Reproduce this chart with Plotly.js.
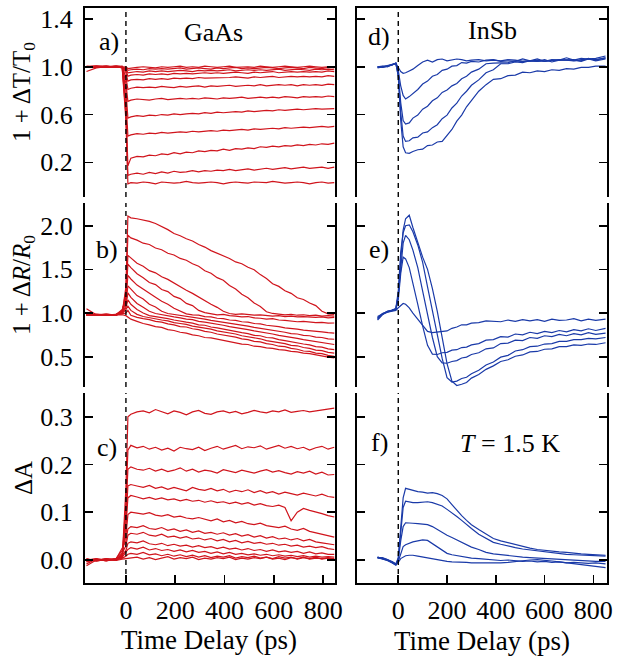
<!DOCTYPE html>
<html>
<head>
<meta charset="utf-8">
<script src="https://cdn.plot.ly/plotly-3.0.1.min.js"></script>
<style>
  html, body { margin: 0; padding: 0; background: #ffffff; }
  #chart { width: 618px; height: 656px; }
</style>
</head>
<body>
<div id="chart"></div>
<script>
// Time axes (ps)
const tGaAs = [-160,-120,-80,-40,-15,0,8,20,45,70,95,120,145,170,195,220,245,270,295,320,345,370,395,420,445,470,495,520,545,570,595,620,645,670,695,720,745,770,795,820,845];
const tInSb = [-85,-65,-45,-25,-10,0,10,20,30,45,60,80,100,120,140,160,180,200,220,240,260,280,300,330,360,390,420,450,480,510,540,570,600,630,660,690,720,750,780,810,850];

// a) GaAs: 1 + dT/T0, one curve per pump fluence
const gaasTransmission = [
  [1.0,1.005,0.995,1.0,0.99, 0.55,0.02, 0.03,0.025,0.035,0.03,0.02,0.035,0.03,0.025,0.03,0.04, 0.03,0.025,0.03,0.035,0.03,0.02,0.03,0.035,0.03,0.025, 0.035,0.03,0.03,0.04,0.03,0.025,0.03,0.035,0.03,0.02, 0.03,0.035,0.025,0.03],
  [0.96,0.99,1.0,1.005,0.995, 0.6,0.09, 0.10,0.11,0.10,0.115,0.105,0.12,0.11,0.125,0.115,0.12, 0.13,0.12,0.13,0.125,0.135,0.13,0.14,0.13,0.135,0.145, 0.135,0.14,0.15,0.14,0.145,0.155,0.145,0.15,0.16,0.15, 0.155,0.16,0.15,0.16],
  [1.0,0.995,1.005,1.0,0.995, 0.65,0.17, 0.235,0.25,0.245,0.26,0.255,0.27,0.265,0.28,0.27,0.285, 0.28,0.295,0.29,0.30,0.295,0.31,0.30,0.315,0.31,0.32, 0.315,0.33,0.325,0.335,0.33,0.34,0.335,0.345,0.34,0.35, 0.345,0.355,0.35,0.36],
  [1.0,1.0,0.995,1.005,1.0, 0.72,0.42, 0.43,0.44,0.435,0.445,0.44,0.45,0.445,0.45,0.455,0.45, 0.46,0.455,0.46,0.465,0.46,0.47,0.465,0.47,0.475,0.47, 0.48,0.475,0.48,0.485,0.48,0.49,0.485,0.49,0.495,0.49, 0.495,0.50,0.495,0.50],
  [1.0,1.005,1.0,0.995,1.0, 0.8,0.57, 0.58,0.59,0.585,0.595,0.59,0.60,0.595,0.605,0.60,0.605, 0.61,0.605,0.615,0.61,0.62,0.615,0.62,0.625,0.62,0.63, 0.625,0.63,0.635,0.63,0.64,0.635,0.64,0.645,0.64,0.645, 0.65,0.645,0.65,0.65],
  [1.0,0.995,1.0,1.005,1.0, 0.86,0.71, 0.72,0.73,0.725,0.72,0.73,0.735,0.725,0.73,0.735,0.73, 0.735,0.73,0.74,0.735,0.73,0.74,0.735,0.74,0.745,0.735, 0.74,0.745,0.74,0.745,0.74,0.75,0.745,0.74,0.75,0.745, 0.75,0.745,0.755,0.75],
  [1.0,1.0,1.005,0.995,1.0, 0.91,0.81, 0.82,0.83,0.825,0.83,0.825,0.835,0.83,0.825,0.835,0.83, 0.835,0.84,0.83,0.84,0.835,0.84,0.845,0.835,0.84,0.845, 0.84,0.85,0.84,0.845,0.85,0.845,0.85,0.84,0.85,0.845, 0.85,0.845,0.855,0.85],
  [1.0,0.995,1.0,1.0,1.005, 0.95,0.88, 0.89,0.895,0.89,0.90,0.895,0.90,0.895,0.905,0.90,0.905, 0.90,0.91,0.905,0.905,0.91,0.905,0.91,0.915,0.91,0.905, 0.915,0.91,0.915,0.92,0.91,0.915,0.92,0.915,0.92,0.915, 0.92,0.915,0.925,0.92],
  [1.0,1.0,0.995,1.0,1.0, 0.97,0.92, 0.93,0.935,0.93,0.94,0.935,0.94,0.935,0.945,0.94,0.945, 0.94,0.945,0.95,0.945,0.95,0.945,0.95,0.955,0.95,0.945, 0.955,0.95,0.955,0.96,0.95,0.955,0.96,0.955,0.96,0.955, 0.96,0.955,0.965,0.96],
  [1.005,1.0,1.0,0.995,1.0, 0.98,0.95, 0.955,0.96,0.955,0.965,0.96,0.965,0.96,0.965,0.97,0.965, 0.96,0.97,0.965,0.97,0.965,0.97,0.975,0.965,0.97,0.975, 0.97,0.975,0.97,0.975,0.98,0.97,0.975,0.98,0.975,0.97, 0.98,0.975,0.98,0.975],
  [1.0,1.005,1.0,1.0,0.995, 0.99,0.97, 0.975,0.98,0.975,0.985,0.98,0.985,0.98,0.985,0.99,0.98, 0.985,0.99,0.985,0.98,0.99,0.985,0.99,0.995,0.985,0.99, 0.985,0.99,0.995,0.99,0.985,0.99,0.995,0.99,0.985,0.995, 0.99,0.985,0.995,0.99],
  [1.0,1.0,1.005,0.995,1.0, 1.0,0.985, 0.99,0.995,1.0,0.995,0.99,1.0,0.995,1.0,1.005,0.995, 1.0,0.995,1.005,1.0,0.995,1.0,1.005,0.995,1.0,1.0, 0.995,1.005,1.0,0.995,1.0,1.005,1.0,0.995,1.0,1.005, 1.0,0.995,1.0,1.0]
];

// b) GaAs: 1 + dR/R0
const gaasReflection = [
  [1.05,0.98,0.985,0.975,1.0, 1.3,2.11, 2.09,2.08,2.065,2.05,2.025,1.99,1.955,1.91,1.885,1.85, 1.825,1.785,1.755,1.715,1.685,1.65,1.625,1.585,1.565,1.525, 1.495,1.44,1.395,1.335,1.305,1.255,1.225,1.175,1.155,1.115, 1.085,1.02,0.99,0.985],
  [0.98,0.975,0.985,0.98,1.01, 1.25,1.89, 1.86,1.835,1.80,1.785,1.745,1.725,1.685,1.665,1.625,1.605, 1.565,1.535,1.485,1.455,1.405,1.375,1.315,1.275,1.215,1.175, 1.115,1.075,1.015,0.995,0.99,0.98,0.985,0.975,0.98,0.97, 0.975,0.965,0.97,0.965],
  [0.975,0.985,0.98,0.975,1.02, 1.2,1.66, 1.63,1.57,1.535,1.485,1.46,1.415,1.385,1.34,1.305,1.26, 1.225,1.18,1.145,1.10,1.065,1.02,0.995,0.985,0.99,0.98, 0.975,0.98,0.97,0.965,0.97,0.96,0.965,0.955,0.96,0.955, 0.95,0.955,0.945,0.95],
  [0.985,0.98,0.975,0.985,1.03, 1.18,1.56, 1.52,1.45,1.405,1.35,1.325,1.27,1.245,1.19,1.165,1.11, 1.085,1.03,1.005,0.99,0.98,0.985,0.97,0.965,0.955,0.96, 0.945,0.94,0.93,0.935,0.92,0.915,0.91,0.90,0.905,0.895, 0.89,0.893,0.885,0.886],
  [0.98,0.975,0.985,0.98,1.04, 1.15,1.43, 1.39,1.32,1.27,1.22,1.18,1.135,1.10,1.055,1.02,0.99, 0.98,0.975,0.96,0.955,0.94,0.935,0.92,0.915,0.90,0.895, 0.88,0.875,0.86,0.855,0.845,0.83,0.825,0.815,0.805,0.80, 0.79,0.785,0.775,0.77],
  [0.975,0.985,0.98,0.975,1.02, 1.12,1.31, 1.27,1.20,1.16,1.10,1.07,1.02,0.995,0.985,0.97,0.965, 0.95,0.94,0.93,0.915,0.905,0.895,0.88,0.875,0.86,0.85, 0.835,0.825,0.815,0.80,0.79,0.78,0.765,0.76,0.745,0.74, 0.725,0.72,0.705,0.70],
  [0.98,0.98,0.985,0.975,1.01, 1.08,1.23, 1.18,1.11,1.065,1.02,0.995,0.98,0.97,0.955,0.945,0.93, 0.925,0.905,0.895,0.885,0.87,0.86,0.845,0.835,0.82,0.81, 0.795,0.785,0.77,0.76,0.745,0.735,0.72,0.71,0.695,0.685, 0.67,0.665,0.65,0.64],
  [0.985,0.975,0.98,0.985,1.0, 1.06,1.15, 1.10,1.04,1.0,0.97,0.96,0.945,0.935,0.92,0.905,0.895, 0.885,0.865,0.86,0.84,0.83,0.815,0.80,0.79,0.775,0.765, 0.745,0.74,0.72,0.715,0.695,0.685,0.67,0.66,0.645,0.635, 0.615,0.61,0.59,0.58],
  [0.975,0.98,0.985,0.98,0.995, 1.04,1.08, 1.03,0.985,0.96,0.945,0.935,0.92,0.91,0.89,0.88,0.87, 0.85,0.84,0.825,0.815,0.795,0.785,0.77,0.76,0.74,0.73, 0.715,0.705,0.685,0.675,0.66,0.65,0.63,0.625,0.605,0.595, 0.575,0.57,0.55,0.54],
  [0.98,0.985,0.975,0.98,0.99, 1.0,1.03, 0.975,0.95,0.935,0.925,0.905,0.895,0.875,0.865,0.845,0.84, 0.82,0.81,0.79,0.78,0.76,0.75,0.735,0.725,0.705,0.695, 0.675,0.67,0.65,0.64,0.62,0.615,0.595,0.585,0.565,0.56, 0.54,0.535,0.515,0.505],
  [0.98,0.975,0.98,0.985,0.98, 0.97,0.95, 0.93,0.905,0.88,0.865,0.845,0.835,0.81,0.80,0.78,0.77, 0.75,0.74,0.72,0.715,0.70,0.69,0.67,0.66,0.645,0.64, 0.62,0.615,0.60,0.595,0.58,0.575,0.56,0.555,0.54,0.535, 0.52,0.51,0.495,0.485]
];

// c) GaAs: induced absorption
const gaasAbsorption = [
  [-0.008,0.002,-0.002,0.001,0.004, 0.15,0.30, 0.305,0.31,0.312,0.308,0.315,0.31,0.306,0.312,0.309,0.304, 0.31,0.313,0.307,0.305,0.31,0.312,0.308,0.311,0.306,0.309, 0.313,0.31,0.308,0.312,0.31,0.314,0.309,0.311,0.313,0.31, 0.312,0.314,0.316,0.318],
  [0.002,-0.002,0.001,0.003,0.008, 0.12,0.23, 0.24,0.235,0.238,0.232,0.236,0.23,0.234,0.228,0.236,0.233, 0.231,0.236,0.229,0.234,0.238,0.232,0.236,0.24,0.233,0.237, 0.235,0.239,0.232,0.236,0.24,0.234,0.238,0.233,0.236,0.23, 0.235,0.238,0.232,0.236],
  [0.0,0.003,-0.001,0.002,0.01, 0.1,0.19, 0.195,0.19,0.188,0.192,0.186,0.19,0.185,0.188,0.193,0.186, 0.19,0.184,0.188,0.186,0.182,0.189,0.186,0.183,0.188,0.185, 0.182,0.186,0.189,0.184,0.187,0.183,0.18,0.185,0.182,0.186, 0.18,0.184,0.178,0.179],
  [-0.003,0.001,0.002,-0.001,0.006, 0.08,0.155, 0.158,0.155,0.152,0.156,0.15,0.153,0.148,0.152,0.149,0.145, 0.152,0.148,0.146,0.15,0.145,0.148,0.142,0.146,0.143,0.147, 0.141,0.145,0.14,0.143,0.138,0.142,0.139,0.136,0.14,0.137, 0.134,0.138,0.133,0.131],
  [0.002,-0.001,0.003,0.0,0.012, 0.07,0.13, 0.135,0.132,0.128,0.131,0.127,0.13,0.126,0.128,0.124,0.127, 0.123,0.125,0.121,0.124,0.12,0.122,0.118,0.121,0.117,0.12, 0.115,0.118,0.114,0.112,0.115,0.11,0.082,0.1,0.108,0.104, 0.101,0.097,0.093,0.09],
  [0.0,0.002,-0.002,0.003,0.02, 0.05,0.095, 0.10,0.098,0.096,0.099,0.094,0.092,0.095,0.09,0.092,0.088, 0.086,0.089,0.085,0.082,0.086,0.08,0.083,0.078,0.081,0.076, 0.074,0.077,0.072,0.07,0.068,0.071,0.065,0.062,0.066,0.06, 0.057,0.054,0.05,0.048],
  [0.003,-0.002,0.001,0.002,0.025, 0.04,0.065, 0.07,0.068,0.072,0.066,0.064,0.068,0.062,0.065,0.06,0.063, 0.058,0.061,0.056,0.058,0.054,0.057,0.052,0.055,0.05,0.053, 0.048,0.051,0.046,0.049,0.044,0.046,0.042,0.045,0.04,0.043, 0.038,0.036,0.034,0.032],
  [-0.002,0.002,0.0,0.001,0.015, 0.03,0.052, 0.056,0.054,0.058,0.052,0.05,0.054,0.048,0.05,0.046,0.049, 0.044,0.046,0.042,0.045,0.04,0.043,0.038,0.041,0.036,0.039, 0.035,0.037,0.033,0.035,0.031,0.033,0.029,0.031,0.027,0.029, 0.026,0.028,0.024,0.022],
  [0.001,-0.001,0.002,0.0,0.01, 0.02,0.035, 0.038,0.036,0.04,0.034,0.032,0.035,0.03,0.033,0.029,0.031, 0.027,0.03,0.026,0.028,0.024,0.027,0.023,0.025,0.021,0.024, 0.02,0.022,0.018,0.021,0.017,0.019,0.016,0.018,0.014,0.017, 0.013,0.015,0.012,0.012],
  [-0.004,0.001,0.0,0.002,0.006, 0.015,0.022, 0.026,0.023,0.027,0.021,0.024,0.02,0.022,0.018,0.021,0.017, 0.02,0.016,0.018,0.014,0.017,0.013,0.016,0.012,0.014,0.011, 0.013,0.01,0.012,0.009,0.011,0.008,0.01,0.007,0.009,0.006, 0.008,0.006,0.007,0.006],
  [0.0,-0.002,0.002,0.001,0.004, 0.008,0.012, 0.014,0.012,0.016,0.011,0.013,0.009,0.012,0.008,0.011,0.007, 0.01,0.006,0.009,0.005,0.008,0.006,0.009,0.004,0.007,0.005, 0.008,0.004,0.006,0.003,0.007,0.004,0.006,0.002,0.005,0.003, 0.006,0.002,0.004,0.003],
  [-0.012,0.0,0.002,-0.001,0.002, 0.003,0.004, 0.004,0.006,0.002,0.005,0.001,0.004,0.007,0.002,0.005,0.003, 0.006,0.001,0.004,0.002,0.005,0.003,0.006,0.001,0.004,0.002, 0.005,0.003,0.006,0.002,0.004,0.001,0.005,0.003,0.006,0.002, 0.004,0.003,0.005,0.002]
];

// d) InSb: 1 + dT/T0
const insbTransmission = [
  [0.99,1.0,1.01,1.015,1.03, 1.0,0.96,0.945,0.95,0.965, 0.98,1.01,1.04,1.055,1.04, 1.06,1.065,1.05,1.06,1.065, 1.06,1.05,1.055,1.06,1.05, 1.055,1.05,1.06,1.055,1.045, 1.05,1.055,1.045,1.05,1.06, 1.055,1.05,1.06,1.065,1.07, 1.09],
  [1.0,0.995,1.005,1.02,1.03, 0.97,0.84,0.76,0.73,0.75, 0.775,0.81,0.855,0.88,0.92, 0.935,0.97,0.98,1.005,1.01, 1.035,1.03,1.045,1.04,1.055, 1.06,1.045,1.05,1.045,1.065, 1.05,1.065,1.045,1.06,1.055, 1.075,1.055,1.07,1.065,1.06, 1.075],
  [1.0,1.005,1.0,1.02,1.03, 0.95,0.70,0.55,0.52,0.53, 0.57,0.595,0.645,0.67,0.715, 0.74,0.785,0.805,0.84,0.86, 0.9,0.92,0.955,0.98,1.025, 1.03,1.035,1.035,1.05,1.045, 1.05,1.045,1.06,1.04,1.055, 1.055,1.06,1.045,1.065,1.05, 1.065],
  [0.995,1.0,1.01,1.02,1.025, 0.93,0.62,0.42,0.375,0.38, 0.405,0.41,0.445,0.455,0.49, 0.515,0.565,0.595,0.655,0.695, 0.755,0.795,0.845,0.89,0.95, 0.975,1.025,1.025,1.04,1.035, 1.05,1.045,1.05,1.05,1.055, 1.055,1.055,1.05,1.07,1.055, 1.075],
  [1.0,0.995,1.005,1.015,1.03, 0.92,0.55,0.33,0.28,0.275, 0.29,0.305,0.31,0.34,0.345, 0.37,0.375,0.425,0.475,0.545, 0.595,0.665,0.715,0.795,0.85, 0.895,0.9,0.925,0.93,0.955, 0.95,0.965,0.96,0.975,0.97, 0.985,0.98,0.995,0.995,1.005, 1.005]
];

// e) InSb: 1 + dR/R0
const insbReflection = [
  [0.93,0.99,1.01,1.02,1.03, 1.06,1.09,1.11,1.10,1.06, 1.0,0.93,0.85,0.79,0.775, 0.78,0.79,0.795,0.825,0.84, 0.865,0.865,0.885,0.89,0.91, 0.905,0.9,0.92,0.905,0.925, 0.91,0.925,0.905,0.93,0.915, 0.92,0.935,0.91,0.93,0.915, 0.93],
  [0.95,0.985,1.01,1.025,1.04, 1.15,1.45,1.64,1.62,1.52, 1.35,1.10,0.85,0.63,0.53, 0.525,0.545,0.55,0.575,0.58, 0.605,0.61,0.635,0.65,0.69, 0.695,0.73,0.725,0.76,0.75, 0.78,0.765,0.79,0.775,0.80, 0.785,0.81,0.795,0.82,0.80, 0.825],
  [0.96,0.99,1.02,1.03,1.045, 1.2,1.55,1.80,1.89,1.84, 1.72,1.52,1.25,0.98,0.72, 0.50,0.43,0.425,0.445,0.455, 0.485,0.495,0.525,0.545,0.59, 0.60,0.65,0.655,0.69,0.685, 0.72,0.71,0.74,0.73,0.755, 0.74,0.765,0.75,0.775,0.755, 0.77],
  [0.94,0.995,1.015,1.035,1.05, 1.25,1.70,1.92,2.0,2.01, 1.93,1.78,1.58,1.30,1.02, 0.75,0.48,0.26,0.21,0.22, 0.25,0.265,0.305,0.345,0.405, 0.44,0.495,0.515,0.565,0.58, 0.615,0.62,0.645,0.65,0.675, 0.675,0.695,0.695,0.71,0.705, 0.72],
  [0.92,0.98,1.02,1.03,1.05, 1.2,1.60,1.95,2.08,2.12, 1.98,1.80,1.64,1.50,1.28, 1.02,0.72,0.42,0.22,0.17, 0.185,0.205,0.255,0.295,0.355, 0.395,0.445,0.465,0.505,0.52, 0.555,0.56,0.585,0.59,0.615, 0.615,0.635,0.63,0.645,0.64, 0.66]
];

// f) InSb: induced absorption
const insbAbsorption = [
  [0.005,0.004,0.001,-0.004,-0.009, 0.005,0.07,0.13,0.15,0.148, 0.145,0.143,0.142,0.14,0.141, 0.139,0.135,0.128,0.116,0.104, 0.093,0.083,0.074,0.064,0.054, 0.045,0.04,0.036,0.032,0.028, 0.025,0.022,0.02,0.019,0.017, 0.016,0.014,0.013,0.012,0.011, 0.01],
  [0.006,0.003,0.0,-0.005,-0.01, 0.003,0.06,0.11,0.123,0.121, 0.12,0.12,0.121,0.122,0.12, 0.117,0.113,0.106,0.099,0.091, 0.083,0.074,0.066,0.054,0.045, 0.037,0.033,0.029,0.026,0.023, 0.021,0.019,0.017,0.015,0.013, 0.012,0.011,0.01,0.009,0.009, 0.008],
  [0.004,0.005,0.001,-0.003,-0.008, 0.0,0.04,0.07,0.078,0.078, 0.077,0.076,0.075,0.074,0.07, 0.064,0.057,0.052,0.047,0.042, 0.037,0.031,0.027,0.022,0.016, 0.013,0.011,0.009,0.007,0.006, 0.005,0.004,0.003,0.002,0.001, 0.0,-0.001,-0.001,-0.002,-0.003, -0.003],
  [0.005,0.002,-0.001,-0.006,-0.011, -0.003,0.015,0.028,0.032,0.035, 0.038,0.04,0.042,0.041,0.034, 0.027,0.02,0.014,0.011,0.009, 0.007,0.006,0.004,0.003,0.002, 0.0,-0.001,0.0,-0.002,-0.003, -0.002,-0.004,-0.003,-0.005,-0.004, -0.006,-0.005,-0.006,-0.007,-0.006, -0.008],
  [0.006,0.003,0.0,-0.004,-0.009, -0.005,0.003,0.007,0.009,0.01, 0.01,0.008,0.006,0.004,0.002, 0.0,-0.002,-0.003,-0.004,-0.004, -0.005,-0.005,-0.006,-0.006,-0.007, -0.007,-0.006,-0.005,-0.003,-0.001, 0.0,0.001,0.0,-0.002,-0.004, -0.006,-0.008,-0.01,-0.012,-0.014, -0.016]
];

const timeTicks = [0, 200, 400, 600, 800];
const transTicks = [0.2, 0.6, 1.0, 1.4];
const reflTicks = [0.5, 1.0, 1.5, 2.0];
const absTicks = [0.0, 0.1, 0.2, 0.3];

const RED = '#d0141c';
const BLUE = '#1a3aa8';
const FONT = 'Liberation Serif, Times New Roman, serif';
const W = 618, H = 656;

const traces = [];
function addPanel(t, series, n, color) {
  series.forEach(y => traces.push({
    x: t, y: y, xaxis: 'x' + n, yaxis: 'y' + n,
    type: 'scatter', mode: 'lines',
    line: { color: color, width: 1.2 },
    hoverinfo: 'skip', showlegend: false
  }));
}
addPanel(tGaAs, gaasTransmission, 1, RED);
addPanel(tGaAs, gaasReflection, 2, RED);
addPanel(tGaAs, gaasAbsorption, 3, RED);
addPanel(tInSb, insbTransmission, 4, BLUE);
addPanel(tInSb, insbReflection, 5, BLUE);
addPanel(tInSb, insbAbsorption, 6, BLUE);

// pixel boxes of the panels
const colX = [[85, 335], [356.7, 607]];
const rowY = [[8, 197], [203, 387], [393, 583]];
const xRanges = [[-166, 848], [-170.5, 856]];
const yRanges = [[-0.0906, 1.492], [0.153, 2.26], [-0.0481, 0.3496]];
const yTicks = [transTicks, reflTicks, absTicks];

const layout = {
  width: W, height: H, autosize: false,
  margin: { l: 0, r: 0, t: 0, b: 0 },
  paper_bgcolor: '#ffffff', plot_bgcolor: 'rgba(0,0,0,0)',
  font: { family: FONT, size: 25, color: '#000000' },
  showlegend: false,
  shapes: [], annotations: []
};

for (let c = 0; c < 2; c++) {
  for (let r = 0; r < 3; r++) {
    const n = c * 3 + r + 1;
    const xk = n === 1 ? 'xaxis' : 'xaxis' + n;
    const yk = n === 1 ? 'yaxis' : 'yaxis' + n;
    const xa = {
      domain: [colX[c][0] / W, colX[c][1] / W],
      range: xRanges[c], anchor: 'y' + n,
      showgrid: false, zeroline: false, automargin: false,
      linecolor: '#000000', linewidth: 2,
      tickvals: timeTicks, tickcolor: '#000000', tickwidth: 1.6, ticklen: 8,
      tickfont: { family: FONT, size: 26, color: '#000000' }
    };
    if (r === 0) {
      Object.assign(xa, { side: 'top', showline: true, ticks: '', showticklabels: false });
    } else if (r === 1) {
      Object.assign(xa, { showline: false, ticks: '', showticklabels: false });
    } else {
      Object.assign(xa, { side: 'bottom', showline: true, ticks: 'inside', showticklabels: true, ticklabelstandoff: 3 });
    }
    layout[xk] = xa;
    layout[yk] = {
      domain: [1 - rowY[r][1] / H, 1 - rowY[r][0] / H],
      range: yRanges[r], anchor: 'x' + n,
      showgrid: false, zeroline: false, automargin: false,
      showline: true, mirror: 'ticks', linecolor: '#000000', linewidth: 2,
      ticks: 'inside', ticklen: 8, tickwidth: 1.6, tickcolor: '#000000',
      tickvals: yTicks[r], ticktext: yTicks[r].map(v => v.toFixed(1)),
      showticklabels: c === 0, ticklabelstandoff: 5,
      tickfont: { family: FONT, size: 26, color: '#000000' }
    };
    // pump arrival marker at zero delay
    layout.shapes.push({
      type: 'line', xref: 'x' + n, yref: 'y' + n + ' domain',
      x0: 0, x1: 0, y0: 0, y1: 1,
      line: { color: '#000000', width: 1.4, dash: '5px,4px' }
    });
  }
}

function note(text, px, py, size, opts) {
  layout.annotations.push(Object.assign({
    text: text, xref: 'paper', yref: 'paper',
    x: px / W, y: 1 - py / H, xanchor: 'center', yanchor: 'middle',
    showarrow: false, font: { family: FONT, size: size, color: '#000000' }
  }, opts || {}));
}
note('1 + \u0394T/T<sub>0</sub>', 23, 92, 25, { textangle: -90 });
note('1 + \u0394<i>R</i>/<i>R</i><sub>0</sub>', 23, 285, 25, { textangle: -90 });
note('\u0394A', 23, 478, 25, { textangle: -90 });
note('Time Delay (ps)', 209, 640, 27);
note('Time Delay (ps)', 482, 641, 27);
note('a)', 109, 42, 26);
note('b)', 107, 249, 26);
note('c)', 107, 447, 26);
note('d)', 379, 36, 26);
note('e)', 379, 249, 26);
note('f)', 379, 442, 26);
note('GaAs', 213, 33, 26);
note('InSb', 492, 31, 26);
note('<i>T</i> = 1.5 K', 510, 443, 26);

Plotly.newPlot('chart', traces, layout, { staticPlot: true, displayModeBar: false });
</script>
</body>
</html>
